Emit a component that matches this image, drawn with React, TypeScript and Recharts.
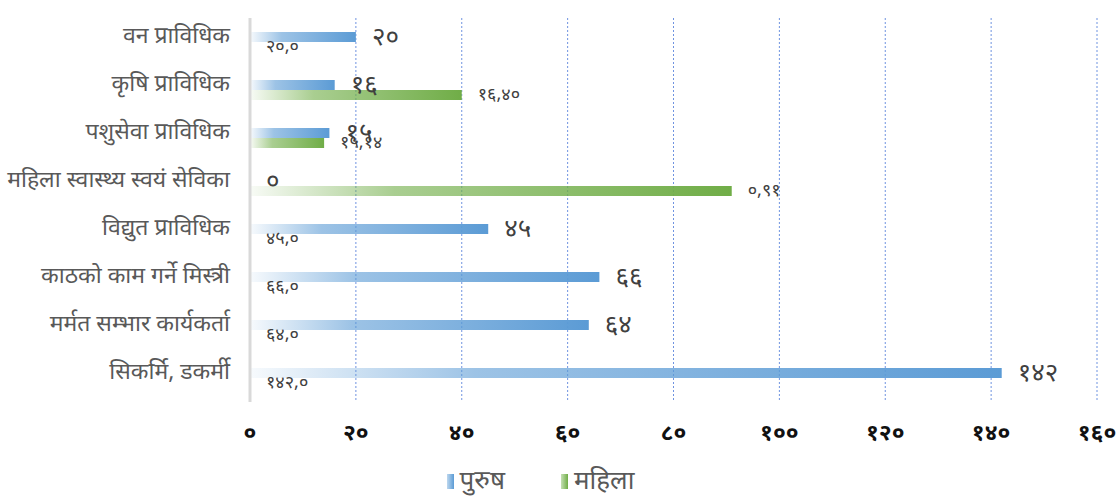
import React from 'react';
import { BarChart, Bar, XAxis, YAxis, CartesianGrid, Legend, LabelList } from 'recharts';

// पेशा अनुसार तालिम प्राप्त संख्या
const categories = [
  'वन प्राविधिक',
  'कृषि प्राविधिक',
  'पशुसेवा प्राविधिक',
  'महिला स्वास्थ्य स्वयं सेविका',
  'विद्युत प्राविधिक',
  'काठको काम गर्ने मिस्त्री',
  'मर्मत सम्भार कार्यकर्ता',
  'सिकर्मि, डकर्मी',
];
const maleValues = [20, 16, 15, 0, 45, 66, 64, 142];
const femaleValues = [0, 40, 14, 91, 0, 0, 0, 0];
const xTicks = [0, 20, 40, 60, 80, 100, 120, 140, 160];
const seriesNames = ['पुरुष', 'महिला'];

const FONT = "'Noto Sans', 'Noto Sans Devanagari', 'Lohit Devanagari', sans-serif";
const BLUE = '#5b9bd5';
const GREEN = '#70ad47';

const devDigits = '०१२३४५६७८९';
const toDev = (n: number) => String(n).replace(/[0-9]/g, d => devDigits[Number(d)]);

const data = categories.map((name, i) => ({
  name,
  male: maleValues[i],
  female: femaleValues[i],
}));

const MaleLabel = (props: any) => {
  const { x, y, width, height, value } = props;
  return (
    <text x={x + width + 16} y={y + height / 2} dy={1} fontSize={26} fill="#404040"
      fontFamily={FONT} dominantBaseline="middle">
      {toDev(value)}
    </text>
  );
};

const FemaleLabel = (props: any) => {
  const { x, y, width, height, index } = props;
  return (
    <text x={x + width + 16} y={y + height / 2} dy={0} fontSize={18} fill="#404040"
      fontFamily={FONT} dominantBaseline="middle">
      {`${toDev(maleValues[index])},${toDev(femaleValues[index])}`}
    </text>
  );
};

const CategoryTick = (props: any) => {
  const { x, y, payload } = props;
  return (
    <text x={x} y={y} dy={-5} textAnchor="end" dominantBaseline="middle"
      fontSize={23} fill="#595959" fontFamily={FONT}>
      {payload.value}
    </text>
  );
};

const LegendContent = () => (
  <div style={{ display: 'flex', justifyContent: 'center', gap: 56, fontFamily: FONT, fontSize: 26, color: '#595959', marginLeft: -16, marginTop: 2, lineHeight: '30px' }}>
    {seriesNames.map((s, i) => (
      <div key={s} style={{ display: 'flex', alignItems: 'center' }}>
        <span style={{
          display: 'inline-block', width: 7, height: 15, marginRight: 6, marginTop: 4,
          background: `linear-gradient(to right, ${i === 0 ? '#bdd7ee' : '#c5e0b4'}, ${i === 0 ? BLUE : GREEN})`,
        }} />
        {s}
      </div>
    ))}
  </div>
);

export default function App() {
  return (
    <div style={{ position: 'absolute', left: 0, top: 0, background: '#fff' }}>
      <BarChart
        width={1117}
        height={497}
        data={data}
        layout="vertical"
        margin={{ top: 18, right: 20, bottom: 0, left: 0 }}
        barCategoryGap="29%"
        barGap={0}
      >
        <defs>
          <linearGradient id="gradMale" x1="0" y1="0" x2="1" y2="0">
            <stop offset="0%" stopColor={BLUE} stopOpacity={0.05} />
            <stop offset="30%" stopColor={BLUE} stopOpacity={0.6} />
            <stop offset="100%" stopColor={BLUE} stopOpacity={1} />
          </linearGradient>
          <linearGradient id="gradFemale" x1="0" y1="0" x2="1" y2="0">
            <stop offset="0%" stopColor={GREEN} stopOpacity={0.05} />
            <stop offset="30%" stopColor={GREEN} stopOpacity={0.6} />
            <stop offset="100%" stopColor={GREEN} stopOpacity={1} />
          </linearGradient>
        </defs>
        <CartesianGrid horizontal={false} stroke="#6f93e0" strokeDasharray="2 2" />
        <XAxis
          type="number"
          domain={[0, 160]}
          ticks={xTicks}
          axisLine={false}
          tickLine={false}
          tickSize={0}
          tickMargin={22}
          height={60}
          tickFormatter={(v: number) => toDev(v)}
          tick={{ fontSize: 23, fontWeight: 'bold', fill: '#111', fontFamily: FONT }}
        />
        <YAxis
          type="category"
          dataKey="name"
          width={250}
          axisLine={{ stroke: '#d9d9d9', strokeWidth: 3 }}
          tickLine={false}
          tickSize={0}
          tickMargin={20}
          tick={<CategoryTick />}
        />
        <Legend verticalAlign="bottom" height={35} content={<LegendContent />} />
        <Bar dataKey="male" name={seriesNames[0]} fill="url(#gradMale)" minPointSize={0.01} isAnimationActive={false}>
          <LabelList dataKey="male" content={<MaleLabel />} />
        </Bar>
        <Bar dataKey="female" name={seriesNames[1]} fill="url(#gradFemale)" minPointSize={0.01} isAnimationActive={false}>
          <LabelList dataKey="female" content={<FemaleLabel />} />
        </Bar>
      </BarChart>
    </div>
  );
}
